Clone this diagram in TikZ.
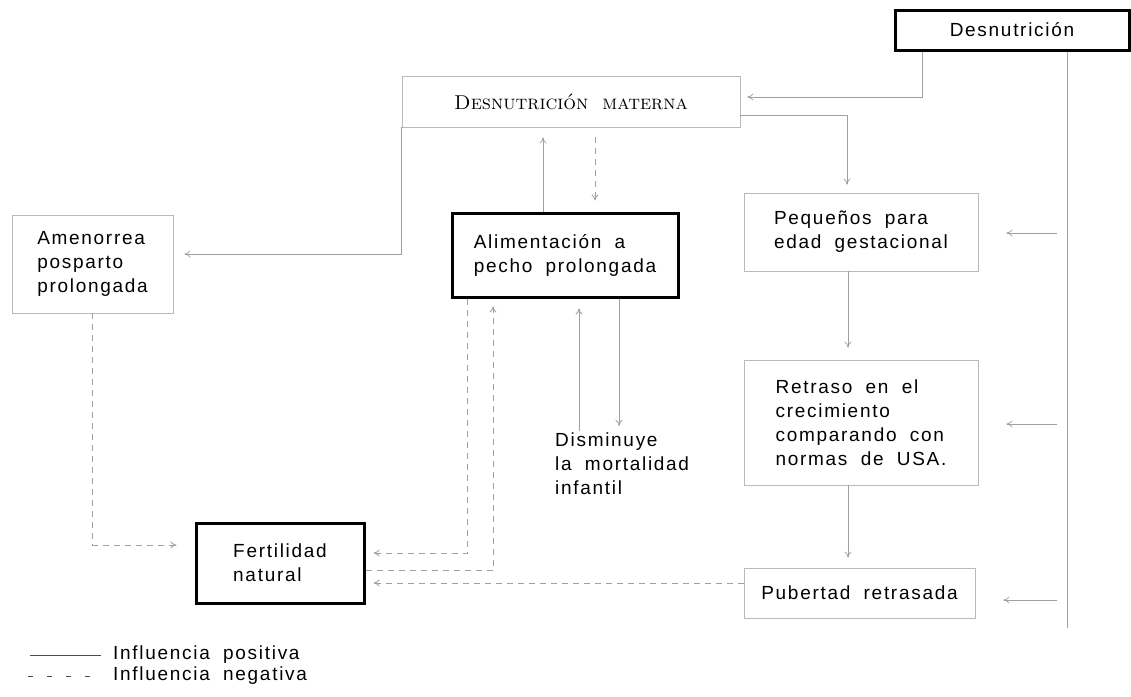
\documentclass[tikz,border=0pt]{standalone}
\usepackage{fontspec}
\newfontfamily\diagfont{Liberation Sans}[LetterSpace=9, WordSpace=1.9]
\usetikzlibrary{positioning,calc,arrows.meta}

\tikzset{
  every node/.style={font=\diagfont\fontsize{19}{24}\selectfont, inner sep=0pt},
  thinbox/.style={draw=gray!55, line width=0.8pt, align=left},
  thickbox/.style={draw=black, line width=3pt, align=left},
  capsbox/.style={thinbox, font=\fontsize{20}{22}\selectfont},
  posline/.style={draw=gray!75, line width=0.8pt},
  negline/.style={posline, dash pattern=on 6pt off 5pt}
}

\begin{document}
\begin{tikzpicture}[x=1pt, y=-1pt, >={To[length=6pt,width=7pt]}]
\useasboundingbox (0,0) rectangle (1131,696);

% boxes
\node (des) [thickbox, minimum width=234pt, minimum height=40pt] at (1012,30) {Desnutrición};
\node (dm) [capsbox, minimum width=338pt, minimum height=51pt] at (571,101.5)
  {\addfontfeature{LetterSpace=14}\textsc{Desnutrición\hspace{0.7em}materna}};
\node (amen) [thinbox, minimum width=161pt, minimum height=98pt] at (92.5,264)
  {Amenorrea\\posparto\\prolongada};
\node (alim) [thickbox, minimum width=226pt, minimum height=84pt] at (565,255)
  {Alimentación a\\pecho prolongada};
\node (peq) [thinbox, minimum width=234pt, minimum height=78pt] at (861,232)
  {Pequeños para\\edad gestacional};
\node (ret) [thinbox, minimum width=234pt, minimum height=125pt] at (861,422.5)
  {Retraso en el\\crecimiento\\comparando con\\normas de USA.};
\node (pub) [thinbox, minimum width=231pt, minimum height=50pt] at (859.5,593)
  {Pubertad retrasada};
\node (fert) [thickbox, minimum width=168pt, minimum height=80pt] at (280,563)
  {Fertilidad\\natural};
\node (mort) [anchor=north west, align=left] at (555,433)
  {Disminuye\\la mortalidad\\infantil};

% desnutricion
\coordinate (railend) at (1067,628);
\draw[posline] (des.south -| railend) -- (railend);
\draw[posline,->,shorten >=7pt] (des.south -| 922,0) |- (dm.east |- 0,97);
\foreach \b/\y in {peq/233, ret/424, pub/600}
  \draw[posline,->,shorten <=10pt,shorten >=28pt] (railend |- 0,\y) -- (\b.east |- 0,\y);

% desnutricion materna
\draw[posline,->,shorten >=8pt] (dm.east |- 0,115) -| (peq.north -| 847,0);
\draw[posline,->,shorten >=11pt] (dm.south west) |- (amen.east |- 0,254);
\draw[posline,->,shorten >=10pt] (alim.north -| 543,0) -- (dm.south -| 543,0);
\draw[negline,->,shorten <=10pt,shorten >=11pt] (dm.south -| 595,0) -- (alim.north -| 595,0);

% alimentacion, fertilidad
\draw[negline,->,shorten >=8pt] (alim.south -| 467,0) |- (fert.east |- 0,553);
\draw[negline,->,shorten >=8pt] (fert.east |- 0,570) -| (alim.south -| 493,0);
\draw[posline,->,shorten <=2pt,shorten >=10pt] (mort.north -| 579,0) -- (alim.south -| 579,0);
\draw[posline,->,shorten >=7pt] (alim.south -| 619,0) -- (mort.north -| 619,0);
\draw[negline,->,shorten >=18pt] (amen.south) |- (fert.west |- 0,545);

% crecimiento
\draw[posline,->,shorten >=12pt] (peq.south -| 848,0) -- (ret.north -| 848,0);
\draw[posline,->,shorten >=10pt] (ret.south -| 848,0) -- (pub.north -| 848,0);
\draw[negline,->,shorten >=8pt] (pub.west |- 0,583) -- (fert.east |- 0,583);

% leyenda
\node (lpos) [anchor=west] at (113,655) {Influencia positiva};
\node (lneg) [anchor=west] at (113,676) {Influencia negativa};
\coordinate (lposend) at (30,655);
\coordinate (lnegend) at (28,676);
\draw[posline,draw=black!70,shorten >=12pt] (lposend) -- (lpos.west);
\draw[posline,draw=black!70,dash pattern=on 5pt off 14pt,shorten >=14pt] (lnegend) -- (lneg.west);
\end{tikzpicture}
\end{document}
